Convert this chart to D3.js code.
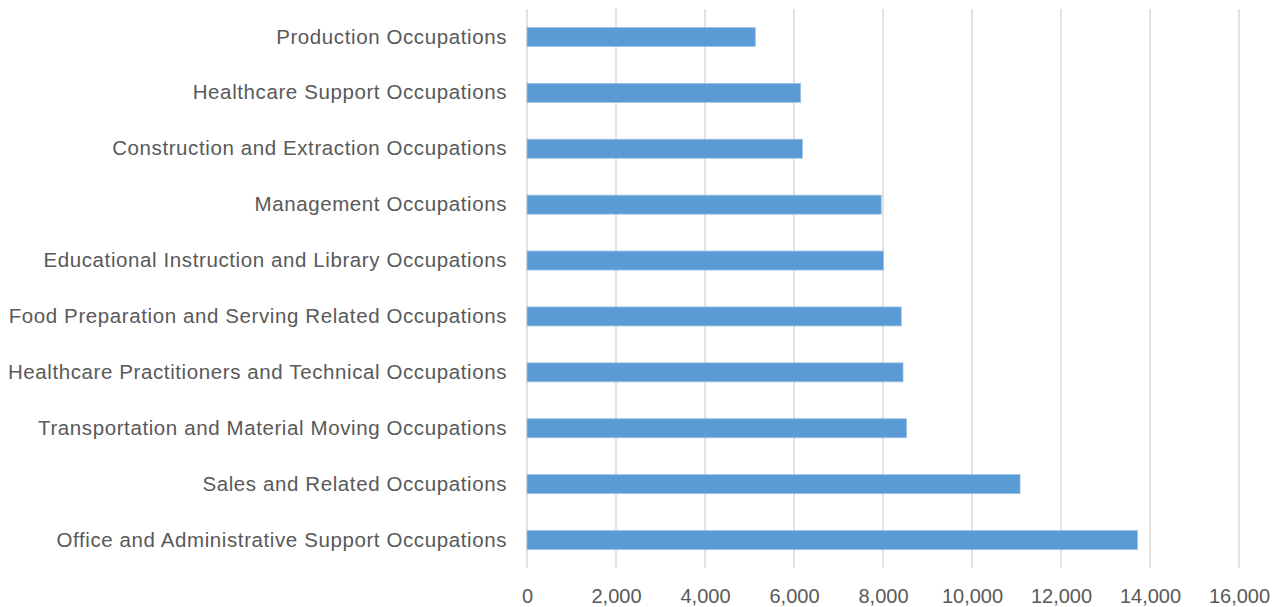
<!DOCTYPE html>
<html>
<head>
<meta charset="utf-8">
<script src="https://cdn.jsdelivr.net/npm/d3@7"></script>
<style>
  html, body { margin: 0; padding: 0; background: #fff; }
  svg { display: block; }
  .tick text { font-family: "Liberation Sans", Arial, sans-serif; }
</style>
</head>
<body>
<svg id="chart" width="1274" height="607"></svg>
<script>
// Occupational groups, listed top to bottom
const categories = [
  "Production Occupations",
  "Healthcare Support Occupations",
  "Construction and Extraction Occupations",
  "Management Occupations",
  "Educational Instruction and Library Occupations",
  "Food Preparation and Serving Related Occupations",
  "Healthcare Practitioners and Technical Occupations",
  "Transportation and Material Moving Occupations",
  "Sales and Related Occupations",
  "Office and Administrative Support Occupations"
];
const values = [5130, 6150, 6190, 7960, 8010, 8410, 8450, 8530, 11080, 13720];
const xTicks = [0, 2000, 4000, 6000, 8000, 10000, 12000, 14000, 16000];

const svg = d3.select("#chart");
const margin = { top: 9, left: 527, right: 35, bottom: 39 };
const W = 1274, H = 607;

const x = d3.scaleLinear().domain([0, 16000]).range([margin.left, W - margin.right]);
const y = d3.scaleBand().domain(categories).range([margin.top, H - margin.bottom]).paddingInner(0.66).paddingOuter(0.33);

// vertical gridlines
svg.append("g")
  .selectAll("line")
  .data(xTicks)
  .join("line")
  .attr("x1", d => x(d)).attr("x2", d => x(d))
  .attr("y1", margin.top).attr("y2", H - margin.bottom)
  .attr("stroke", "#d9d9d9")
  .attr("stroke-width", 1.5);

// bars
svg.append("g")
  .selectAll("rect")
  .data(values)
  .join("rect")
  .attr("x", x(0))
  .attr("y", (d, i) => y(categories[i]))
  .attr("width", d => x(d) - x(0))
  .attr("height", y.bandwidth())
  .attr("fill", "#5b9bd5")
  .attr("stroke", "#9dc3e6")
  .attr("stroke-width", 0.75);

// x axis labels
const xAxis = d3.axisBottom(x)
  .tickValues(xTicks)
  .tickFormat(d3.format(","))
  .tickSize(0)
  .tickPadding(21);
const gx = svg.append("g")
  .attr("transform", `translate(0,${H - margin.bottom})`)
  .call(xAxis);
gx.select(".domain").remove();
gx.selectAll("text").attr("font-size", 20).attr("fill", "#595959");

// category labels
const yAxis = d3.axisLeft(y).tickSize(0).tickPadding(20);
const gy = svg.append("g")
  .attr("transform", `translate(${margin.left},0)`)
  .call(yAxis);
gy.select(".domain").remove();
gy.selectAll("text")
  .attr("font-size", 20.5)
  .attr("letter-spacing", 0.6)
  .attr("fill", "#595959");
</script>
</body>
</html>
